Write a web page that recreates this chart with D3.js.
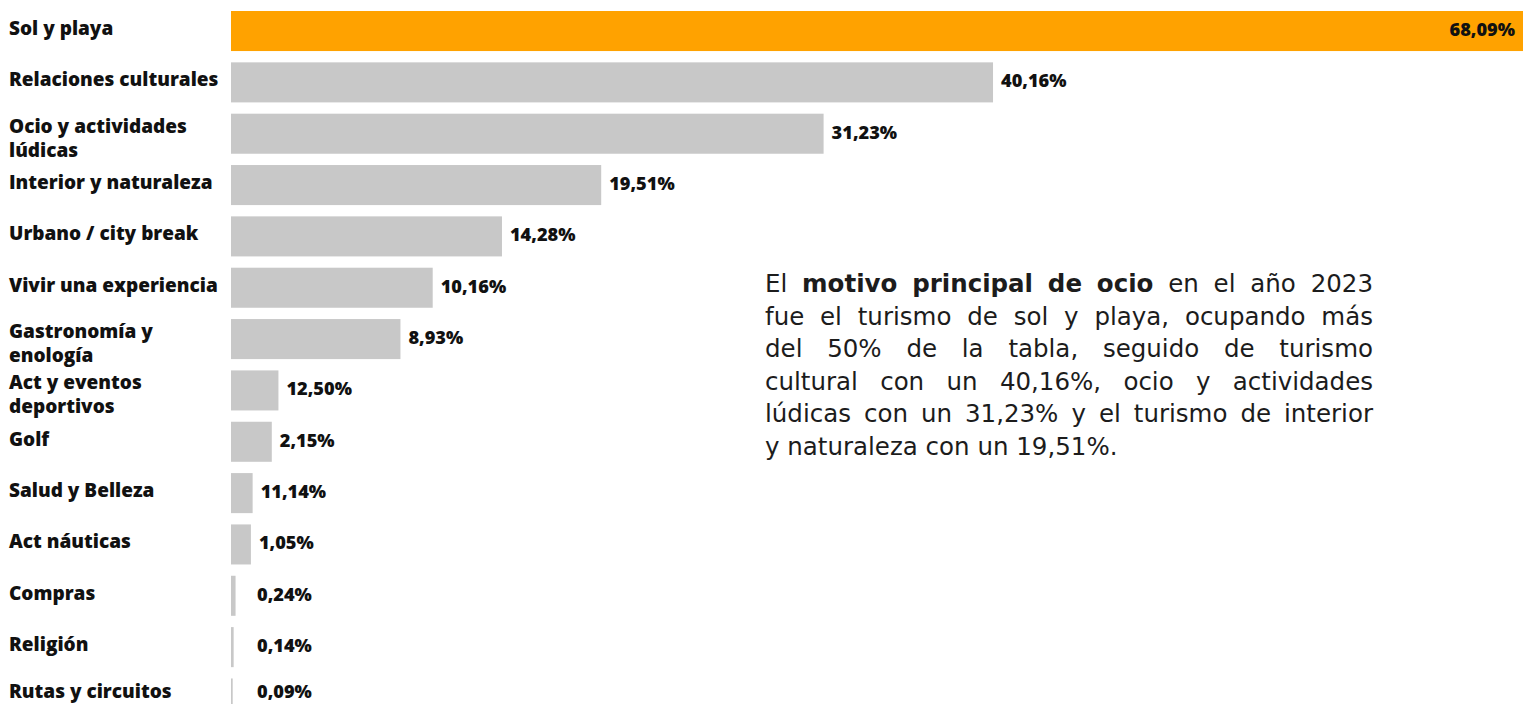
<!DOCTYPE html>
<html lang="es">
<head>
<meta charset="UTF-8">
<title>Motivo principal de ocio</title>
<style>
  body { margin: 0; background: #fff; }
  svg { display: block; }
</style>
</head>
<body>
<script src="https://cdn.jsdelivr.net/npm/d3@7"></script>
<div id="chart"></div>
<script>
// categorias (las de dos lineas llevan \n)
const categories = [
  "Sol y playa", "Relaciones culturales", "Ocio y actividades\nlúdicas",
  "Interior y naturaleza", "Urbano / city break", "Vivir una experiencia",
  "Gastronomía y\nenología", "Act y eventos\ndeportivos", "Golf",
  "Salud y Belleza", "Act náuticas", "Compras", "Religión", "Rutas y circuitos"
];
// longitud de barra (%)
const barValues = [68.09, 40.16, 31.23, 19.51, 14.28, 10.63, 8.93, 2.5, 2.15, 1.14, 1.05, 0.24, 0.14, 0.09];
// etiquetas tal como aparecen
const valueLabels = ["68,09%", "40,16%", "31,23%", "19,51%", "14,28%", "10,16%", "8,93%",
  "12,50%", "2,15%", "11,14%", "1,05%", "0,24%", "0,14%", "0,09%"];
// texto del comentario, **negrita**
const noteLines = [
  "El **motivo principal de ocio** en el año 2023",
  "fue el turismo de sol y playa, ocupando más",
  "del 50% de la tabla, seguido de turismo",
  "cultural con un 40,16%, ocio y actividades",
  "lúdicas con un 31,23% y el turismo de interior",
  "y naturaleza con un 19,51%."
];

const width = 1525, height = 704;
const font = "'Open Sans', 'DejaVu Sans', sans-serif";

const svg = d3.select("#chart").append("svg")
  .attr("width", width).attr("height", height);

const x = d3.scaleLinear().domain([0, d3.max(barValues)]).range([231, 1523]);
const y = d3.scaleBand().domain(d3.range(categories.length))
  .range([11, 718.5]).paddingInner(0.22).paddingOuter(0);

// barras
svg.append("g").selectAll("rect").data(barValues).join("rect")
  .attr("x", x(0))
  .attr("y", (d, i) => y(i))
  .attr("width", d => x(d) - x(0))
  .attr("height", y.bandwidth())
  .attr("fill", (d, i) => i === 0 ? "#FFA200" : "#C8C8C8");

// etiquetas de categoria
const lab = svg.append("g").attr("font-family", font).attr("font-weight", 800)
  .attr("font-size", "19px").attr("fill", "#111");
categories.forEach((c, i) => {
  const parts = c.split("\n");
  const cy = y(i) + y.bandwidth() / 2;
  const t = lab.append("text").attr("x", 9);
  if (parts.length === 1) {
    t.attr("y", Math.min(cy + 4, height - 6)).text(c);
  } else {
    parts.forEach((p, k) => {
      t.append("tspan").attr("x", 9).attr("y", cy - 1 + k * 24).text(p);
    });
  }
});

// valores
const minLabelX = 257;
svg.append("g").attr("font-family", font).attr("font-weight", 800)
  .attr("font-size", "18.2px").attr("fill", "#111")
  .selectAll("text").data(barValues).join("text")
  .attr("y", (d, i) => Math.min(y(i) + y.bandwidth() / 2 + 5, height - 6))
  .attr("x", (d, i) => i === 0 ? x(d) - 8 : Math.max(x(d) + 8, minLabelX))
  .attr("text-anchor", (d, i) => i === 0 ? "end" : "start")
  .text((d, i) => valueLabels[i]);

// comentario justificado
const note = svg.append("g").attr("font-family", "'DejaVu Sans', sans-serif")
  .attr("font-size", "24.5px").attr("fill", "#1c1c1c");
const left = 765, right = 1373, base0 = 292, lineH = 32.5;
noteLines.forEach((line, li) => {
  let bold = false;
  const words = [];
  line.split(" ").forEach(w => {
    let b = bold;
    if (w.startsWith("**")) { w = w.slice(2); b = true; bold = true; }
    if (w.endsWith("**")) { w = w.slice(0, -2); bold = false; }
    words.push({ w: w, b: b });
  });
  const nodes = words.map(o => note.append("text")
    .attr("y", base0 + li * lineH)
    .attr("font-weight", o.b ? 700 : 400)
    .text(o.w));
  const widths = nodes.map(n => n.node().getComputedTextLength());
  const last = li === noteLines.length - 1;
  const space = 7.8;
  const gap = last ? space : (right - left - d3.sum(widths)) / (words.length - 1);
  let cx = left;
  nodes.forEach((n, k) => { n.attr("x", cx); cx += widths[k] + gap; });
});
</script>
</body>
</html>
